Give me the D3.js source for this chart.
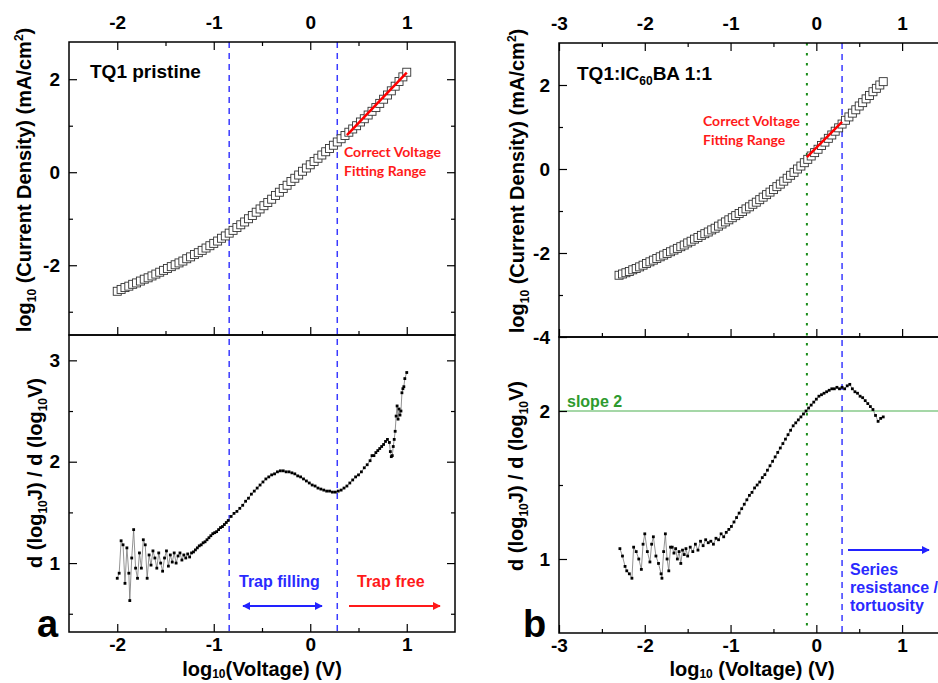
<!DOCTYPE html>
<meta charset="utf-8">
<title>TQ1 slope analysis</title>
<style>
    body { margin: 0; background: #fff; }
    svg { font-family: Arial, "Liberation Sans", sans-serif; }
    .tick text { font-size: 19px; font-weight: bold; fill: #000; }
    .tick line { stroke: #000; stroke-width: 1.2; }
    .frame { fill: none; stroke: #000; stroke-width: 1.5; }
    .title { font-size: 20px; font-weight: bold; fill: #000; }
</style>
<body>
<div id="chart"></div>
<script src="https://d3js.org/d3.v7.min.js"></script>
<script>
// ---- panel a: TQ1 pristine, log J vs log V (open squares)
var jvA_V = [-2.00,-1.96,-1.92,-1.88,-1.84,-1.80,-1.76,-1.72,-1.68,-1.64,-1.60,-1.56,-1.52,-1.48,-1.44,-1.40,-1.36,-1.32,-1.28,-1.24,-1.20,-1.16,-1.12,-1.08,-1.04,-1.00,-0.96,-0.92,-0.88,-0.84,-0.80,-0.76,-0.72,-0.68,-0.64,-0.60,-0.56,-0.52,-0.48,-0.44,-0.40,-0.36,-0.32,-0.28,-0.24,-0.20,-0.16,-0.12,-0.08,-0.04,0.00,0.04,0.08,0.12,0.16,0.20,0.24,0.28,0.32,0.36,0.40,0.44,0.48,0.52,0.56,0.60,0.64,0.68,0.72,0.76,0.80,0.84,0.88,0.92,0.96,1.00];
var jvA_J = [-2.56,-2.52,-2.48,-2.45,-2.41,-2.38,-2.34,-2.30,-2.27,-2.23,-2.19,-2.15,-2.11,-2.07,-2.03,-1.99,-1.95,-1.91,-1.86,-1.82,-1.77,-1.73,-1.68,-1.63,-1.58,-1.53,-1.48,-1.42,-1.37,-1.31,-1.25,-1.19,-1.13,-1.07,-1.00,-0.93,-0.86,-0.79,-0.72,-0.65,-0.58,-0.50,-0.43,-0.35,-0.28,-0.20,-0.13,-0.06,0.02,0.09,0.16,0.23,0.30,0.37,0.44,0.51,0.58,0.65,0.72,0.79,0.86,0.93,1.00,1.08,1.15,1.23,1.31,1.39,1.48,1.57,1.66,1.75,1.85,1.95,2.05,2.15];

// panel a: local slope d(logJ)/d(logV)
var slA_V = [-2.00,-1.98,-1.96,-1.94,-1.92,-1.90,-1.88,-1.87,-1.85,-1.83,-1.81,-1.79,-1.77,-1.75,-1.73,-1.71,-1.69,-1.67,-1.65,-1.63,-1.61,-1.59,-1.57,-1.55,-1.53,-1.51,-1.49,-1.47,-1.45,-1.43,-1.41,-1.39,-1.37,-1.35,-1.33,-1.31,-1.29,-1.27,-1.25,-1.23,-1.21,-1.19,-1.17,-1.15,-1.13,-1.11,-1.09,-1.07,-1.05,-1.03,-1.01,-0.99,-0.97,-0.95,-0.93,-0.91,-0.89,-0.87,-0.85,-0.82,-0.79,-0.76,-0.73,-0.70,-0.67,-0.64,-0.61,-0.58,-0.55,-0.52,-0.49,-0.46,-0.43,-0.40,-0.37,-0.34,-0.31,-0.28,-0.25,-0.22,-0.19,-0.16,-0.13,-0.10,-0.07,-0.04,-0.01,0.02,0.05,0.08,0.11,0.14,0.17,0.20,0.23,0.26,0.29,0.32,0.35,0.38,0.41,0.44,0.47,0.50,0.53,0.56,0.59,0.62,0.64,0.66,0.68,0.70,0.72,0.74,0.76,0.78,0.80,0.82,0.83,0.84,0.85,0.86,0.87,0.88,0.89,0.90,0.91,0.92,0.93,0.94,0.95,0.96,0.97,0.98,1.00];
var slA_S = [0.85,0.90,1.22,1.18,0.80,1.15,0.90,0.63,1.05,1.33,0.95,0.85,1.10,0.95,1.23,1.18,0.85,1.08,0.98,1.12,1.05,0.95,1.10,1.00,0.92,1.05,1.12,0.97,1.08,1.01,1.10,1.00,1.07,1.10,1.03,1.08,1.05,1.09,1.06,1.10,1.11,1.13,1.15,1.17,1.18,1.20,1.21,1.23,1.25,1.27,1.29,1.30,1.31,1.33,1.35,1.36,1.38,1.40,1.42,1.46,1.49,1.51,1.54,1.57,1.61,1.64,1.68,1.71,1.74,1.77,1.80,1.83,1.85,1.87,1.88,1.90,1.91,1.91,1.90,1.90,1.89,1.88,1.86,1.85,1.83,1.81,1.79,1.77,1.76,1.74,1.73,1.72,1.71,1.71,1.70,1.70,1.71,1.72,1.74,1.76,1.79,1.82,1.85,1.87,1.90,1.94,1.97,2.01,2.06,2.06,2.09,2.11,2.13,2.15,2.17,2.20,2.22,2.19,2.10,2.05,2.06,2.15,2.22,2.30,2.45,2.55,2.42,2.52,2.46,2.50,2.68,2.72,2.74,2.82,2.88];

// ---- panel b: TQ1:IC60BA 1:1
var jvB_V = [-2.30,-2.26,-2.22,-2.18,-2.14,-2.10,-2.06,-2.02,-1.98,-1.94,-1.90,-1.86,-1.82,-1.78,-1.74,-1.70,-1.66,-1.62,-1.58,-1.54,-1.50,-1.46,-1.42,-1.38,-1.34,-1.30,-1.26,-1.22,-1.18,-1.14,-1.10,-1.06,-1.02,-0.98,-0.94,-0.90,-0.86,-0.82,-0.78,-0.74,-0.70,-0.66,-0.62,-0.58,-0.54,-0.50,-0.46,-0.42,-0.38,-0.34,-0.30,-0.26,-0.22,-0.18,-0.14,-0.10,-0.06,-0.02,0.02,0.06,0.10,0.14,0.18,0.22,0.26,0.30,0.34,0.38,0.42,0.46,0.50,0.54,0.58,0.62,0.66,0.70,0.74,0.78];
var jvB_J = [-2.53,-2.50,-2.47,-2.44,-2.40,-2.37,-2.33,-2.29,-2.25,-2.21,-2.17,-2.13,-2.09,-2.05,-2.01,-1.97,-1.93,-1.89,-1.85,-1.81,-1.76,-1.72,-1.67,-1.63,-1.58,-1.54,-1.50,-1.45,-1.41,-1.36,-1.31,-1.26,-1.21,-1.16,-1.11,-1.06,-1.01,-0.95,-0.90,-0.84,-0.79,-0.73,-0.67,-0.61,-0.55,-0.49,-0.42,-0.36,-0.29,-0.22,-0.15,-0.08,0.00,0.07,0.15,0.23,0.31,0.39,0.47,0.56,0.64,0.73,0.81,0.90,0.98,1.07,1.16,1.24,1.33,1.41,1.50,1.58,1.67,1.75,1.84,1.92,2.00,2.08];

var slB_V = [-2.29,-2.26,-2.23,-2.21,-2.18,-2.15,-2.13,-2.10,-2.07,-2.04,-2.02,-2.00,-1.97,-1.94,-1.92,-1.90,-1.87,-1.84,-1.81,-1.80,-1.78,-1.76,-1.74,-1.72,-1.70,-1.68,-1.66,-1.64,-1.62,-1.60,-1.58,-1.56,-1.54,-1.52,-1.50,-1.47,-1.44,-1.41,-1.38,-1.35,-1.32,-1.29,-1.26,-1.23,-1.20,-1.17,-1.14,-1.11,-1.08,-1.05,-1.02,-0.99,-0.96,-0.93,-0.90,-0.87,-0.84,-0.81,-0.78,-0.75,-0.72,-0.69,-0.66,-0.63,-0.60,-0.57,-0.54,-0.51,-0.48,-0.45,-0.42,-0.39,-0.36,-0.33,-0.30,-0.27,-0.24,-0.21,-0.18,-0.15,-0.12,-0.09,-0.06,-0.03,0.00,0.03,0.06,0.09,0.12,0.15,0.18,0.21,0.24,0.27,0.30,0.33,0.36,0.39,0.42,0.45,0.48,0.51,0.54,0.57,0.60,0.63,0.66,0.69,0.72,0.75,0.78];
var slB_S = [1.07,1.02,0.95,0.92,0.90,0.87,1.08,1.05,1.00,0.93,1.10,1.17,1.05,0.98,1.10,1.15,1.02,0.97,0.90,0.87,1.05,1.17,1.00,0.92,1.08,1.08,1.04,1.07,1.00,1.05,0.97,1.06,1.03,1.07,1.02,1.08,1.05,1.10,1.06,1.12,1.09,1.13,1.11,1.12,1.10,1.14,1.13,1.17,1.15,1.18,1.20,1.22,1.25,1.28,1.31,1.34,1.37,1.40,1.43,1.45,1.48,1.50,1.52,1.55,1.57,1.60,1.63,1.66,1.69,1.72,1.75,1.78,1.81,1.84,1.87,1.90,1.92,1.94,1.96,1.98,2.00,2.02,2.04,2.06,2.08,2.10,2.11,2.12,2.13,2.14,2.15,2.15,2.16,2.15,2.16,2.15,2.17,2.18,2.15,2.13,2.12,2.10,2.09,2.07,2.05,2.03,2.01,1.97,1.93,1.95,1.96];

// annotations (log V positions)
var fitA = [[0.38, 0.80], [1.00, 2.14]];
var fitB = [[-0.11, 0.28], [0.30, 1.12]];
var dashA = [-0.84, 0.28];
var dashB = [0.30];
var dotB = [-0.11];
var slopeLine = 2;

var W = 938, H = 683;
var svg = d3.select("#chart").append("svg").attr("width", W).attr("height", H);

var xA = d3.scaleLinear().domain([-2.5, 1.5]).range([69, 455]);
var yA1 = d3.scaleLinear().domain([-3.5, 2.8]).range([335, 42]);
var yA2 = d3.scaleLinear().domain([0.32, 3.25]).range([632, 335]);
var xB = d3.scaleLinear().domain([-3, 1.5]).range([559, 945]);
var yB1 = d3.scaleLinear().domain([-4, 3]).range([337, 43]);
var yB2 = d3.scaleLinear().domain([0.5, 2.5]).range([633, 337]);

var defs = svg.append("defs");
function arrowHead(id, color) {
    defs.append("marker").attr("id", id).attr("viewBox", "0 0 10 10")
        .attr("refX", 9).attr("refY", 5).attr("markerWidth", 4).attr("markerHeight", 4)
        .attr("orient", "auto-start-reverse")
        .append("path").attr("d", "M0,0L10,5L0,10z").attr("fill", color);
}
arrowHead("headBlue", "#2222ff");
arrowHead("headRed", "#ff1a1a");

// tick helper: inward ticks, major + minor
function ticks(orient, scale, tx, ty, major, minor, labels, pad) {
    var make = {top: d3.axisTop, bottom: d3.axisBottom, left: d3.axisLeft, right: d3.axisRight}[orient];
    var g = svg.append("g").attr("transform", "translate(" + tx + "," + ty + ")");
    g.append("g").call(make(scale).tickValues(minor).tickSize(-4).tickFormat(""));
    g.append("g").call(make(scale).tickValues(major).tickSize(-8).tickPadding(pad)
        .tickFormat(labels ? function(d) { return String(d); } : ""));
    g.selectAll(".domain").remove();
}

function richText(sel, parts, subDrop) {
    var shift = 0, drop = subDrop || 5;
    parts.forEach(function(p) {
        var want = p[1] === "sub" ? drop : p[1] === "sup" ? -8 : 0;
        var t = sel.append("tspan").attr("dy", want - shift).text(p[0]);
        if (p[1]) t.style("font-size", "12px");
        shift = want;
    });
}

function squares(data, x, y) {
    svg.append("g").selectAll("rect").data(data).enter().append("rect")
        .attr("x", function(d) { return x(d[0]) - 4; })
        .attr("y", function(d) { return y(d[1]) - 4; })
        .attr("width", 8).attr("height", 8)
        .attr("fill", "#fff").attr("stroke", "#333").attr("stroke-width", 0.9);
}

function dots(data, x, y) {
    svg.append("path").datum(data)
        .attr("d", d3.line().x(function(d) { return x(d[0]); }).y(function(d) { return y(d[1]); }))
        .attr("fill", "none").attr("stroke", "#777").attr("stroke-width", 0.8);
    svg.append("g").selectAll("rect").data(data).enter().append("rect")
        .attr("x", function(d) { return x(d[0]) - 1.4; })
        .attr("y", function(d) { return y(d[1]) - 1.4; })
        .attr("width", 2.8).attr("height", 2.8).attr("fill", "#000");
}

function vline(x, v, y0, y1, color, dash, w) {
    svg.append("line").attr("x1", x(v)).attr("x2", x(v)).attr("y1", y0).attr("y2", y1)
        .attr("stroke", color).attr("stroke-width", w).attr("stroke-dasharray", dash);
}

function zip(a, b) { return a.map(function(v, i) { return [v, b[i]]; }); }

// ---------- panel a ----------
dashA.forEach(function(v) { vline(xA, v, 42, 632, "#3a3aff", "6,5", 1.5); });
squares(zip(jvA_V, jvA_J), xA, yA1);
svg.append("line").attr("x1", xA(fitA[0][0])).attr("y1", yA1(fitA[0][1]))
    .attr("x2", xA(fitA[1][0])).attr("y2", yA1(fitA[1][1]))
    .attr("stroke", "#ff0000").attr("stroke-width", 2.5);
dots(zip(slA_V, slA_S), xA, yA2);

svg.append("rect").attr("class", "frame").attr("x", 69).attr("y", 42).attr("width", 386).attr("height", 293);
svg.append("rect").attr("class", "frame").attr("x", 69).attr("y", 335).attr("width", 386).attr("height", 297);

var xMajA = [-2, -1, 0, 1], xMinA = [-1.5, -0.5, 0.5];
ticks("top", xA, 0, 42, xMajA, xMinA, true, 13);
ticks("bottom", xA, 0, 335, xMajA, xMinA, false, 0);
ticks("bottom", xA, 0, 632, xMajA, xMinA, true, 6);
ticks("left", yA1, 69, 0, [-2, 0, 2], [-3, -1, 1], true, 9);
ticks("right", yA1, 455, 0, [-2, 0, 2], [-3, -1, 1], false, 0);
ticks("left", yA2, 69, 0, [1, 2, 3], [0.5, 1.5, 2.5], true, 9);
ticks("right", yA2, 455, 0, [1, 2, 3], [0.5, 1.5, 2.5], false, 0);

// ---------- panel b ----------
dotB.forEach(function(v) { vline(xB, v, 43, 633, "#1a8c1a", "2.5,7.5", 2); });
dashB.forEach(function(v) { vline(xB, v, 43, 633, "#3a3aff", "6,5", 1.5); });
svg.append("line").attr("x1", 559).attr("x2", W).attr("y1", yB2(slopeLine)).attr("y2", yB2(slopeLine))
    .attr("stroke", "#4caf50").attr("stroke-width", 1.2);
squares(zip(jvB_V, jvB_J), xB, yB1);
svg.append("line").attr("x1", xB(fitB[0][0])).attr("y1", yB1(fitB[0][1]))
    .attr("x2", xB(fitB[1][0])).attr("y2", yB1(fitB[1][1]))
    .attr("stroke", "#ff0000").attr("stroke-width", 2.5);
dots(zip(slB_V, slB_S), xB, yB2);

svg.append("rect").attr("class", "frame").attr("x", 559).attr("y", 43).attr("width", 386).attr("height", 294);
svg.append("rect").attr("class", "frame").attr("x", 559).attr("y", 337).attr("width", 386).attr("height", 296);

var xMajB = [-3, -2, -1, 0, 1], xMinB = [-2.5, -1.5, -0.5, 0.5];
ticks("top", xB, 0, 43, xMajB, xMinB, true, 13);
ticks("bottom", xB, 0, 337, xMajB, xMinB, false, 0);
ticks("bottom", xB, 0, 633, xMajB, xMinB, true, 6);
ticks("left", yB1, 559, 0, [-4, -2, 0, 2], [-3, -1, 1], true, 9);
ticks("left", yB2, 559, 0, [1, 2], [1.5], true, 9);

// ---------- titles ----------
richText(svg.append("text").attr("class", "title").attr("text-anchor", "middle")
    .attr("transform", "translate(31,180) rotate(-90)"),
    [["log"], ["10", "sub"], [" (Current Density) (mA/cm"], ["2", "sup"], [")"]]);
richText(svg.append("text").attr("class", "title").attr("text-anchor", "middle")
    .attr("transform", "translate(42,473) rotate(-90)"),
    [["d (log"], ["10", "sub"], ["J) / d (log"], ["10", "sub"], ["V)"]]);
richText(svg.append("text").attr("class", "title").attr("text-anchor", "middle")
    .attr("transform", "translate(524,181) rotate(-90)"),
    [["log"], ["10", "sub"], [" (Current Density) (mA/cm"], ["2", "sup"], [")"]]);
richText(svg.append("text").attr("class", "title").attr("text-anchor", "middle")
    .attr("transform", "translate(523,476) rotate(-90)"),
    [["d (log"], ["10", "sub"], ["J) / d (log"], ["10", "sub"], ["V)"]]);
richText(svg.append("text").attr("class", "title").attr("text-anchor", "middle")
    .attr("x", 262).attr("y", 676).style("font-size", "20px"),
    [["log"], ["10", "sub"], ["(Voltage) (V)"]], 2);
richText(svg.append("text").attr("class", "title").attr("text-anchor", "middle")
    .attr("x", 752).attr("y", 676).style("font-size", "20px"),
    [["log"], ["10", "sub"], [" (Voltage) (V)"]], 2);

// sample names and panel letters
svg.append("text").attr("x", 90).attr("y", 78).style("font-size", "19px").style("font-weight", "bold")
    .text("TQ1 pristine");
richText(svg.append("text").attr("x", 577).attr("y", 80).style("font-size", "19px").style("font-weight", "bold"),
    [["TQ1:IC"], ["60", "sub"], ["BA 1:1"]]);
svg.append("text").attr("x", 37).attr("y", 637).style("font-size", "38px").style("font-weight", "bold").text("a");
svg.append("text").attr("x", 523).attr("y", 637).style("font-size", "38px").style("font-weight", "bold").text("b");

// red fit notes
function redNote(x, y) {
    var t = svg.append("text").attr("x", x).attr("y", y).attr("fill", "#ff1a1a")
        .style("font-family", "Lato, 'Open Sans', sans-serif").style("font-size", "14px")
        .style("font-weight", "bold");
    t.append("tspan").attr("x", x).text("Correct Voltage");
    t.append("tspan").attr("x", x).attr("dy", 19).text("Fitting Range");
}
redNote(344, 157);
redNote(703, 126);

// regime annotations
svg.append("text").attr("x", 239).attr("y", 587).attr("fill", "#2a2aff")
    .style("font-size", "16px").style("font-weight", "bold").text("Trap filling");
svg.append("text").attr("x", 357).attr("y", 587).attr("fill", "#ff1a1a")
    .style("font-size", "16px").style("font-weight", "bold").text("Trap free");
svg.append("line").attr("x1", 243).attr("x2", 322).attr("y1", 606).attr("y2", 606)
    .attr("stroke", "#2222ff").attr("stroke-width", 2)
    .attr("marker-start", "url(#headBlue)").attr("marker-end", "url(#headBlue)");
svg.append("line").attr("x1", 349).attr("x2", 440).attr("y1", 606).attr("y2", 606)
    .attr("stroke", "#ff1a1a").attr("stroke-width", 2).attr("marker-end", "url(#headRed)");
svg.append("line").attr("x1", 848).attr("x2", 929).attr("y1", 550).attr("y2", 550)
    .attr("stroke", "#2222ff").attr("stroke-width", 2).attr("marker-end", "url(#headBlue)");
var ser = svg.append("text").attr("fill", "#2a2aff").style("font-size", "16px").style("font-weight", "bold");
["Series", "resistance /", "tortuosity"].forEach(function(s, i) {
    ser.append("tspan").attr("x", 850).attr("y", 575 + i * 18).text(s);
});
svg.append("text").attr("x", 567).attr("y", 407).attr("fill", "#2e9a2e")
    .style("font-size", "16px").style("font-weight", "bold").text("slope 2");
</script>
</body>
